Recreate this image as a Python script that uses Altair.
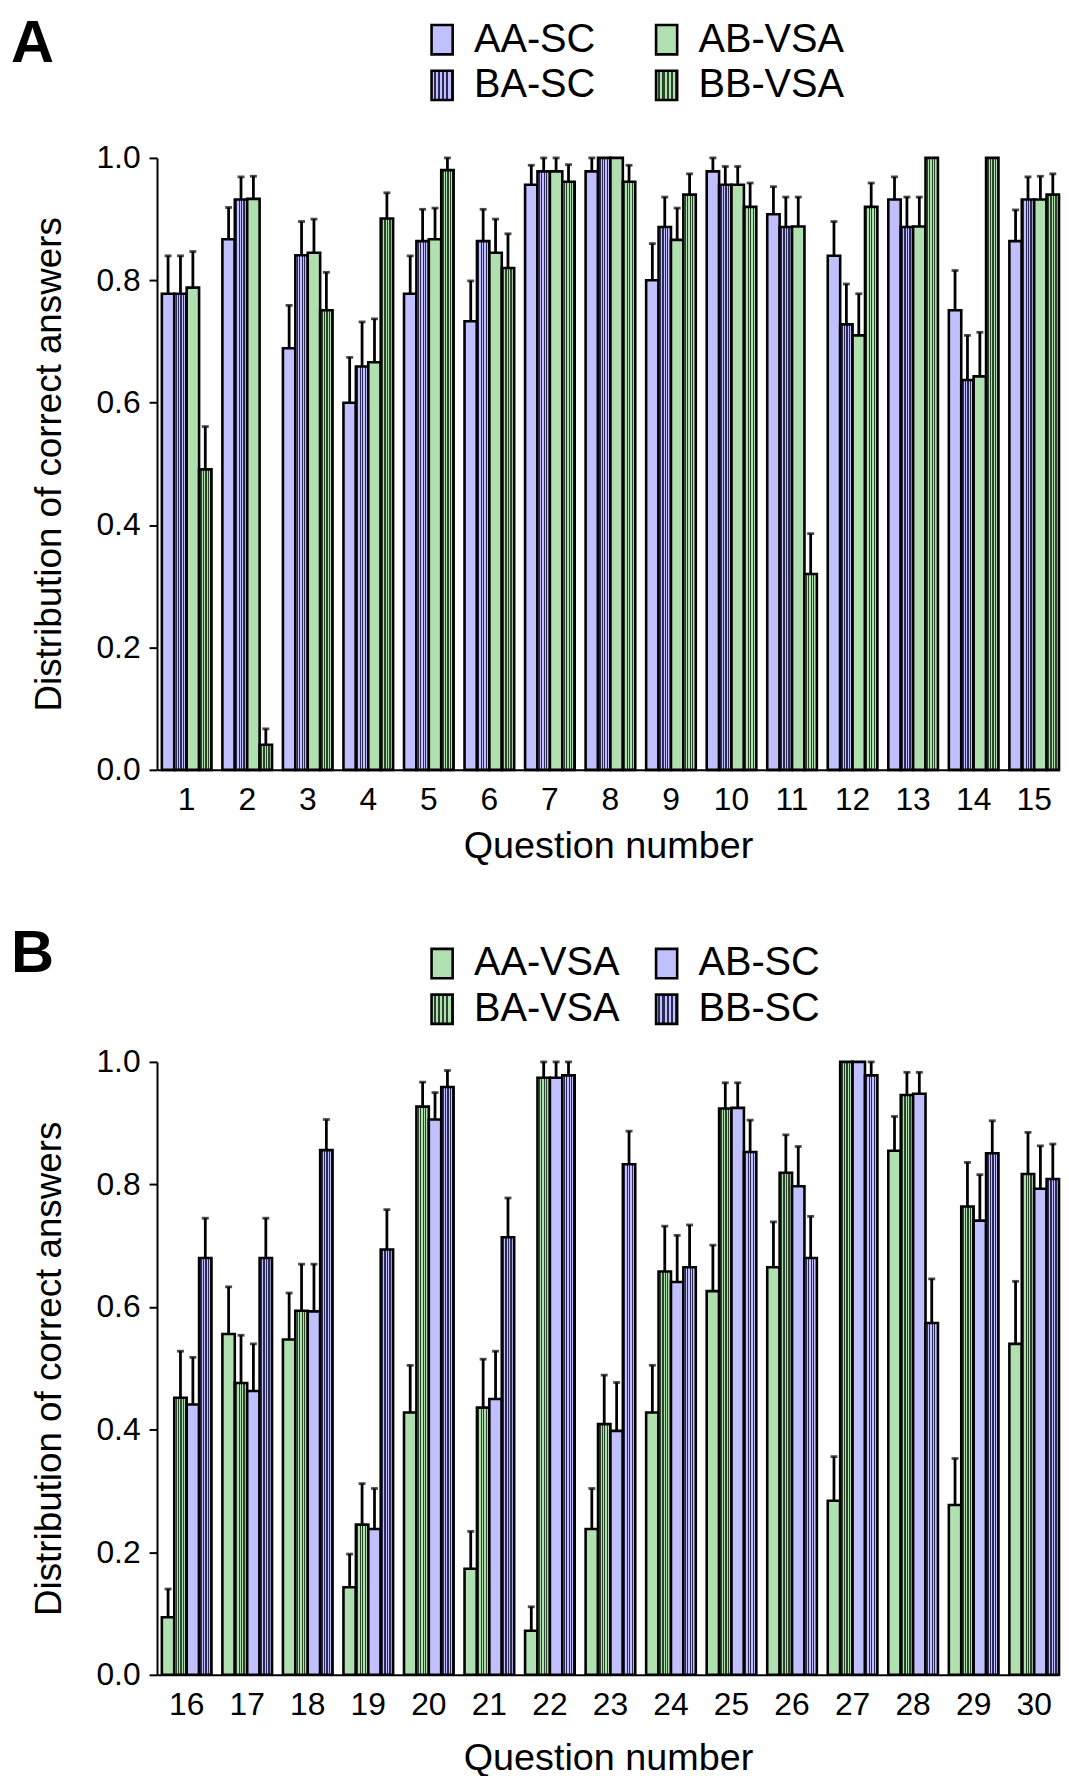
import altair as alt
import pandas as pd

FONT = "Liberation Sans"

# ---------------- data ----------------
questions_a = [str(i) for i in range(1, 16)]
questions_b = [str(i) for i in range(16, 31)]

# Panel A (bar order within a group: AA-SC, BA-SC, AB-VSA, BB-VSA)
aa_sc = [0.778, 0.867, 0.689, 0.600, 0.778, 0.733, 0.956, 0.978, 0.800, 0.978, 0.908, 0.840, 0.932, 0.751, 0.864]
aa_sc_err = [0.062, 0.052, 0.070, 0.074, 0.062, 0.066, 0.032, 0.022, 0.060, 0.022, 0.045, 0.056, 0.037, 0.065, 0.051]
ba_sc = [0.778, 0.932, 0.841, 0.659, 0.864, 0.864, 0.978, 1.000, 0.887, 0.956, 0.887, 0.728, 0.887, 0.637, 0.932]
ba_sc_err = [0.062, 0.037, 0.055, 0.073, 0.052, 0.052, 0.022, 0.000, 0.049, 0.030, 0.049, 0.066, 0.049, 0.073, 0.037]
ab_vsa = [0.788, 0.933, 0.845, 0.666, 0.867, 0.845, 0.978, 1.000, 0.866, 0.956, 0.888, 0.710, 0.888, 0.643, 0.932]
ab_vsa_err = [0.059, 0.037, 0.055, 0.071, 0.051, 0.055, 0.022, 0.000, 0.052, 0.030, 0.048, 0.068, 0.048, 0.072, 0.038]
bb_vsa = [0.491, 0.041, 0.751, 0.901, 0.980, 0.820, 0.961, 0.961, 0.940, 0.920, 0.320, 0.920, 1.000, 1.000, 0.940]
bb_vsa_err = [0.070, 0.026, 0.062, 0.042, 0.020, 0.056, 0.028, 0.027, 0.034, 0.039, 0.066, 0.039, 0.000, 0.000, 0.034]

# Panel B (bar order within a group: AA-VSA, BA-VSA, AB-SC, BB-SC)
aa_vsa = [0.094, 0.556, 0.547, 0.143, 0.428, 0.173, 0.072, 0.238, 0.428, 0.626, 0.665, 0.284, 0.855, 0.277, 0.540]
aa_vsa_err = [0.046, 0.077, 0.076, 0.054, 0.077, 0.061, 0.039, 0.066, 0.077, 0.075, 0.074, 0.072, 0.056, 0.076, 0.102]
ba_vsa = [0.452, 0.476, 0.594, 0.245, 0.927, 0.436, 0.974, 0.409, 0.658, 0.924, 0.819, 1.000, 0.946, 0.764, 0.817]
ba_vsa_err = [0.076, 0.078, 0.076, 0.067, 0.040, 0.079, 0.026, 0.080, 0.074, 0.042, 0.062, 0.000, 0.037, 0.072, 0.068]
ab_sc = [0.441, 0.463, 0.593, 0.238, 0.906, 0.450, 0.974, 0.398, 0.641, 0.925, 0.797, 1.000, 0.948, 0.741, 0.793]
ab_sc_err = [0.077, 0.077, 0.077, 0.066, 0.044, 0.078, 0.026, 0.079, 0.076, 0.041, 0.065, 0.000, 0.035, 0.075, 0.070]
bb_sc = [0.680, 0.680, 0.856, 0.694, 0.959, 0.714, 0.978, 0.833, 0.665, 0.853, 0.680, 0.978, 0.574, 0.851, 0.809]
bb_sc_err = [0.065, 0.065, 0.050, 0.065, 0.027, 0.064, 0.022, 0.054, 0.069, 0.052, 0.068, 0.022, 0.072, 0.053, 0.057]

bars_a = ["AA-SC", "BA-SC", "AB-VSA", "BB-VSA"]
legend_a = ["AA-SC", "AB-VSA", "BA-SC", "BB-VSA"]
bars_b = ["AA-VSA", "BA-VSA", "AB-SC", "BB-SC"]
legend_b = ["AA-VSA", "AB-SC", "BA-VSA", "BB-SC"]

# ---------------- style ----------------
BLUE = "#c0c0ff"
GREEN = "#b0e0b0"
BLUE_DARK = "#2a2a55"
GREEN_DARK = "#2a442a"
PLOT_W = 908
Y_TITLE = "Distribution of correct answers"


def stripes(light, dark, n=5):
    stops = []
    for i in range(n):
        a, m, b = i / n, (i + 0.5) / n, (i + 1) / n
        stops += [{"offset": a, "color": light}, {"offset": m, "color": light},
                  {"offset": m, "color": dark}, {"offset": b, "color": dark}]
    return {"gradient": "linear", "x1": 0, "y1": 0, "x2": 1, "y2": 0, "stops": stops}


def fill_enc(legend_order, solid, patterned):
    conds = [{"test": f"datum.series === '{s}'", "value": stripes(*patterned[s])} for s in patterned]
    colors = [solid[s] if s in solid else patterned[s][0] for s in legend_order]
    return alt.Fill("series:N", scale=alt.Scale(domain=legend_order, range=colors),
                    condition=conds, legend=None)


def legend_chart(label, legend_order, solid, patterned, height, row_range, title_dy):
    ldf = pd.DataFrame({"series": legend_order,
                        "col": [i % 2 for i in range(len(legend_order))],
                        "row": [i // 2 for i in range(len(legend_order))]})
    base = alt.Chart(ldf).encode(
        x=alt.X("col:Q", scale=alt.Scale(domain=[0, 1], range=[287, 513]), axis=None),
        y=alt.Y("row:Q", scale=alt.Scale(domain=[0, 1], range=row_range), axis=None),
    )
    sym = base.mark_point(shape="M-0.72,-1H0.72V1H-0.72Z", size=870, filled=True, opacity=1,
                          stroke="black", strokeWidth=2.6, strokeOpacity=1).encode(
        fill=fill_enc(legend_order, solid, patterned))
    txt = base.mark_text(align="left", baseline="middle", dx=32, font=FONT, fontSize=40,
                         color="black").encode(text="series:N")
    return alt.layer(sym, txt).properties(
        width=PLOT_W, height=height,
        title=alt.TitleParams(label, anchor="start", frame="group", dx=-147, dy=title_dy,
                              fontSize=60, font=FONT, fontWeight="bold", color="black"),
    )


def panel(questions, bar_order, legend_order, series, solid, patterned, height, xlabel_pad, xtitle_pad):
    rows = []
    for s in bar_order:
        vals, errs = series[s]
        for q, v, e in zip(questions, vals, errs):
            rows.append({"q": q, "series": s, "value": v, "err": e, "upper": v + e})
    df = pd.DataFrame(rows)

    yaxis = alt.Axis(title=Y_TITLE, values=[0, 0.2, 0.4, 0.6, 0.8, 1.0], format=".1f",
                     tickSize=8, labelPadding=9, titlePadding=28)
    yscale = alt.Scale(domain=[0, 1], nice=False)

    base = alt.Chart(df).encode(
        x=alt.X("q:N", sort=questions,
                scale=alt.Scale(paddingInner=0.18, paddingOuter=0.04, align=1),
                axis=alt.Axis(title="Question number", labelAngle=0, tickSize=0, ticks=False,
                              labelPadding=xlabel_pad, titlePadding=xtitle_pad)),
        xOffset=alt.XOffset("series:N", sort=bar_order,
                            scale=alt.Scale(paddingInner=0, paddingOuter=0)),
    )

    bars = base.mark_bar(stroke="black", strokeWidth=2.6).encode(
        y=alt.Y("value:Q", scale=yscale, axis=yaxis),
        fill=fill_enc(legend_order, solid, patterned),
    )

    errbase = base.transform_filter("datum.err > 0")
    rules = errbase.mark_rule(color="black", strokeWidth=2.8).encode(
        y=alt.Y("value:Q", scale=yscale, axis=yaxis), y2="upper:Q")
    caps = errbase.mark_tick(color="black", thickness=2.8, size=7).encode(
        y=alt.Y("upper:Q", scale=yscale, axis=yaxis))

    return alt.layer(bars, rules, caps).properties(width=PLOT_W, height=height)


series_a = {"AA-SC": (aa_sc, aa_sc_err), "BA-SC": (ba_sc, ba_sc_err),
            "AB-VSA": (ab_vsa, ab_vsa_err), "BB-VSA": (bb_vsa, bb_vsa_err)}
series_b = {"AA-VSA": (aa_vsa, aa_vsa_err), "BA-VSA": (ba_vsa, ba_vsa_err),
            "AB-SC": (ab_sc, ab_sc_err), "BB-SC": (bb_sc, bb_sc_err)}

solid_a = {"AA-SC": BLUE, "AB-VSA": GREEN}
pat_a = {"BA-SC": (BLUE, BLUE_DARK), "BB-VSA": (GREEN, GREEN_DARK)}
solid_b = {"AA-VSA": GREEN, "AB-SC": BLUE}
pat_b = {"BA-VSA": (GREEN, GREEN_DARK), "BB-SC": (BLUE, BLUE_DARK)}

leg_a = legend_chart("A", legend_a, solid_a, pat_a, 118, [15, 61], 59)
plot_a = panel(questions_a, bars_a, legend_a, series_a, solid_a, pat_a, 616, 15, 12)
leg_b = legend_chart("B", legend_b, solid_b, pat_b, 181.5, [99, 145], 125)
plot_b = panel(questions_b, bars_b, legend_b, series_b, solid_b, pat_b, 617, 15, 19)

chart = alt.vconcat(leg_a, plot_a, leg_b, plot_b, spacing=0).resolve_scale(
    x="independent", y="independent", fill="independent", xOffset="independent"
).properties(
    padding={"left": 3, "top": 0, "right": 0, "bottom": 0}
).configure_view(strokeWidth=0).configure_axis(
    labelFont=FONT, titleFont=FONT, labelFontSize=32, labelColor="black",
    titleFontSize=37, titleFontWeight="normal", titleColor="black",
    domainColor="black", domainWidth=2, tickColor="black", tickWidth=2, grid=False,
).configure_axisX(titleFontSize=38)

chart.save("out.html", embed_options={"renderer": "svg", "actions": False})
